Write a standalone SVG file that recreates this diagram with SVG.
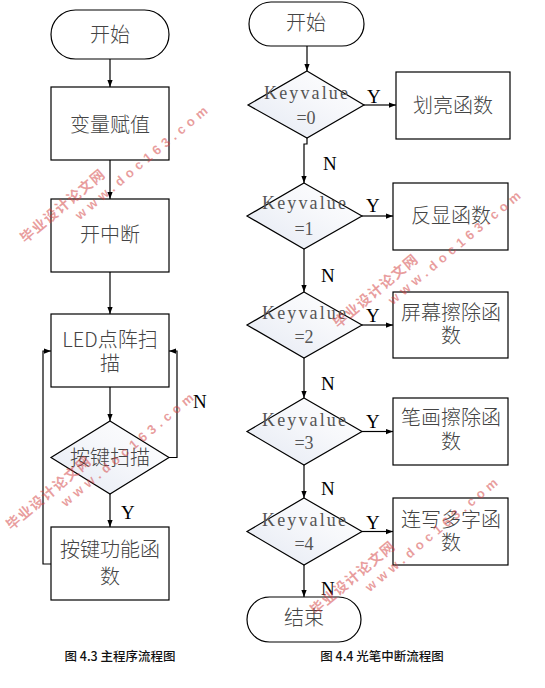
<svg xmlns="http://www.w3.org/2000/svg" width="545" height="688" viewBox="0 0 545 688">
<defs>
<linearGradient id="dg" x1="0" y1="1" x2="1" y2="0">
<stop offset="0" stop-color="#e4e9f3"/>
<stop offset="0.6" stop-color="#f7f8fb"/>
<stop offset="1" stop-color="#ffffff"/>
</linearGradient>
<marker id="ah" viewBox="0 0 8 8" refX="8" refY="4" markerWidth="7" markerHeight="7" markerUnits="userSpaceOnUse" orient="auto">
<path d="M0,1 L8,4 L0,7 z" fill="#000"/>
</marker>
</defs>
<style>
.shape{fill:#fff;stroke:#000;stroke-width:1.2}
.dia{fill:url(#dg);stroke:#000;stroke-width:1.2}
.cn{font-family:"Noto Sans CJK SC","Liberation Serif",serif;font-size:20px;fill:#444;text-anchor:middle;font-weight:300}
.kv{font-family:"Liberation Serif",serif;font-size:18px;fill:#555;text-anchor:middle}
.yn{font-family:"Liberation Serif",serif;font-size:19px;fill:#000}
.cap{font-family:"Noto Sans CJK SC","Liberation Sans",sans-serif;font-size:12.5px;fill:#111;text-anchor:middle;font-weight:500}
.line{fill:none;stroke:#000;stroke-width:1.2}
.wm1{font-family:"Noto Sans CJK SC",sans-serif;font-size:14px;font-weight:700;fill:#d23c3c;fill-opacity:0.5}
.wm2{font-family:"Liberation Sans",sans-serif;font-size:13px;font-weight:700;fill:#d23c3c;fill-opacity:0.5}
</style>

<!-- Left chart -->
<g id="l_start"><rect class="shape" x="51" y="10" width="118" height="49" rx="24.5"/><text class="cn" x="110" y="42">开始</text></g>
<g id="l_init"><rect class="shape" x="51" y="87" width="118" height="73"/><text class="cn" x="110" y="132" font-size="21">变量赋值</text></g>
<g id="l_int"><rect class="shape" x="51" y="199" width="118" height="73"/><text class="cn" x="110" y="242" font-size="21">开中断</text></g>
<g id="l_scan"><rect class="shape" x="51" y="314" width="118" height="73"/><text class="cn" font-size="21"><tspan x="110" y="347">LED点阵扫</tspan><tspan x="110" y="371">描</tspan></text></g>
<g id="l_key"><polygon class="dia" points="110,421 169,457.5 110,494 51,457.5"/><text class="cn" x="110" y="465" font-size="21">按键扫描</text></g>
<g id="l_func"><rect class="shape" x="51" y="527" width="118" height="73"/><text class="cn" font-size="21"><tspan x="110" y="557">按键功能函</tspan><tspan x="110" y="584">数</tspan></text></g>

<!-- Right chart -->
<g id="r_start"><rect class="shape" x="249" y="2" width="115" height="44" rx="22"/><text class="cn" x="306" y="30">开始</text></g>
<g id="r_d0"><polygon class="dia" points="307,71 364,105 307,138 248,105"/><text class="kv"><tspan x="306" y="99" textLength="84" lengthAdjust="spacing">Keyvalue</tspan><tspan x="306" y="124">=0</tspan></text></g>
<g id="r_b0"><rect class="shape" x="396" y="72" width="114" height="67"/><text class="cn" x="453" y="113">划亮函数</text></g>
<g id="r_d1"><polygon class="dia" points="304,183 362,216 304,249 247,216"/><text class="kv"><tspan x="304" y="209" textLength="84" lengthAdjust="spacing">Keyvalue</tspan><tspan x="304" y="235">=1</tspan></text></g>
<g id="r_b1"><rect class="shape" x="393" y="183" width="115" height="67"/><text class="cn" x="451" y="223">反显函数</text></g>
<g id="r_d2"><polygon class="dia" points="304,292 362,325 304,358 247,325"/><text class="kv"><tspan x="304" y="319" textLength="84" lengthAdjust="spacing">Keyvalue</tspan><tspan x="304" y="343">=2</tspan></text></g>
<g id="r_b2"><rect class="shape" x="393" y="292" width="115" height="66"/><text class="cn"><tspan x="451" y="320">屏幕擦除函</tspan><tspan x="451" y="343">数</tspan></text></g>
<g id="r_d3"><polygon class="dia" points="304,398 362,431.5 304,465 247,431.5"/><text class="kv"><tspan x="304" y="426" textLength="84" lengthAdjust="spacing">Keyvalue</tspan><tspan x="304" y="449">=3</tspan></text></g>
<g id="r_b3"><rect class="shape" x="393" y="398" width="115" height="67"/><text class="cn"><tspan x="451" y="425">笔画擦除函</tspan><tspan x="451" y="449">数</tspan></text></g>
<g id="r_d4"><polygon class="dia" points="304,498 362,531.5 304,565 247,531.5"/><text class="kv"><tspan x="304" y="526" textLength="84" lengthAdjust="spacing">Keyvalue</tspan><tspan x="304" y="550">=4</tspan></text></g>
<g id="r_b4"><rect class="shape" x="393" y="498" width="115" height="67"/><text class="cn"><tspan x="451" y="527">连写多字函</tspan><tspan x="451" y="550">数</tspan></text></g>
<g id="r_end"><rect class="shape" x="247" y="597" width="114" height="45" rx="22.5"/><text class="cn" x="304" y="625">结束</text></g>

<!-- Connectors -->
<g id="connectors">
<line class="line" x1="110" y1="59" x2="110" y2="87" marker-end="url(#ah)"/>
<line class="line" x1="110" y1="160" x2="110" y2="199" marker-end="url(#ah)"/>
<line class="line" x1="110" y1="272" x2="110" y2="314" marker-end="url(#ah)"/>
<line class="line" x1="110" y1="387" x2="110" y2="421" marker-end="url(#ah)"/>
<line class="line" x1="110" y1="494" x2="110" y2="527" marker-end="url(#ah)"/>
<polyline class="line" points="169,457.5 177,457.5 177,351 169,351" marker-end="url(#ah)"/>
<polyline class="line" points="51,564 43,564 43,351 51,351" marker-end="url(#ah)"/>

<line class="line" x1="307" y1="46" x2="307" y2="71" marker-end="url(#ah)"/>
<line class="line" x1="364" y1="105" x2="396" y2="105" marker-end="url(#ah)"/>
<polyline class="line" points="307,138 307,144 304,144 304,183" marker-end="url(#ah)"/>
<line class="line" x1="362" y1="216" x2="393" y2="216" marker-end="url(#ah)"/>
<line class="line" x1="304" y1="249" x2="304" y2="292" marker-end="url(#ah)"/>
<line class="line" x1="362" y1="325" x2="393" y2="325" marker-end="url(#ah)"/>
<line class="line" x1="304" y1="358" x2="304" y2="398" marker-end="url(#ah)"/>
<line class="line" x1="362" y1="431.5" x2="393" y2="431.5" marker-end="url(#ah)"/>
<line class="line" x1="304" y1="465" x2="304" y2="498" marker-end="url(#ah)"/>
<line class="line" x1="362" y1="531.5" x2="393" y2="531.5" marker-end="url(#ah)"/>
<line class="line" x1="304" y1="565" x2="304" y2="597" marker-end="url(#ah)"/>

<text class="yn" x="193" y="408">N</text>
<text class="yn" x="121" y="519">Y</text>
<text class="yn" x="367" y="103">Y</text>
<text class="yn" x="323" y="170">N</text>
<text class="yn" x="366" y="212">Y</text>
<text class="yn" x="321" y="282">N</text>
<text class="yn" x="366" y="322">Y</text>
<text class="yn" x="321" y="390">N</text>
<text class="yn" x="366" y="428">Y</text>
<text class="yn" x="321" y="495">N</text>
<text class="yn" x="366" y="529">Y</text>
<text class="yn" x="321" y="595">N</text>
</g>

<!-- Captions -->
<text class="cap" x="120" y="661">图 4.3  主程序流程图</text>
<text class="cap" x="382" y="661">图 4.4  光笔中断流程图</text>

<!-- Watermarks -->
<g id="watermarks">
<g transform="translate(22,240) rotate(-40)"><text class="wm1" x="0" y="5" textLength="105" lengthAdjust="spacing">毕业设计论文网</text><text class="wm2" x="57" y="22" textLength="168" lengthAdjust="spacing">www.doc163.com</text></g>
<g transform="translate(8,527) rotate(-40)"><text class="wm1" x="0" y="5" textLength="105" lengthAdjust="spacing">毕业设计论文网</text><text class="wm2" x="57" y="22" textLength="168" lengthAdjust="spacing">www.doc163.com</text></g>
<g transform="translate(335,325) rotate(-40)"><text class="wm1" x="0" y="5" textLength="105" lengthAdjust="spacing">毕业设计论文网</text><text class="wm2" x="57" y="22" textLength="168" lengthAdjust="spacing">www.doc163.com</text></g>
<g transform="translate(312,612) rotate(-40)"><text class="wm1" x="0" y="5" textLength="105" lengthAdjust="spacing">毕业设计论文网</text><text class="wm2" x="57" y="22" textLength="168" lengthAdjust="spacing">www.doc163.com</text></g>
</g>
</svg>
